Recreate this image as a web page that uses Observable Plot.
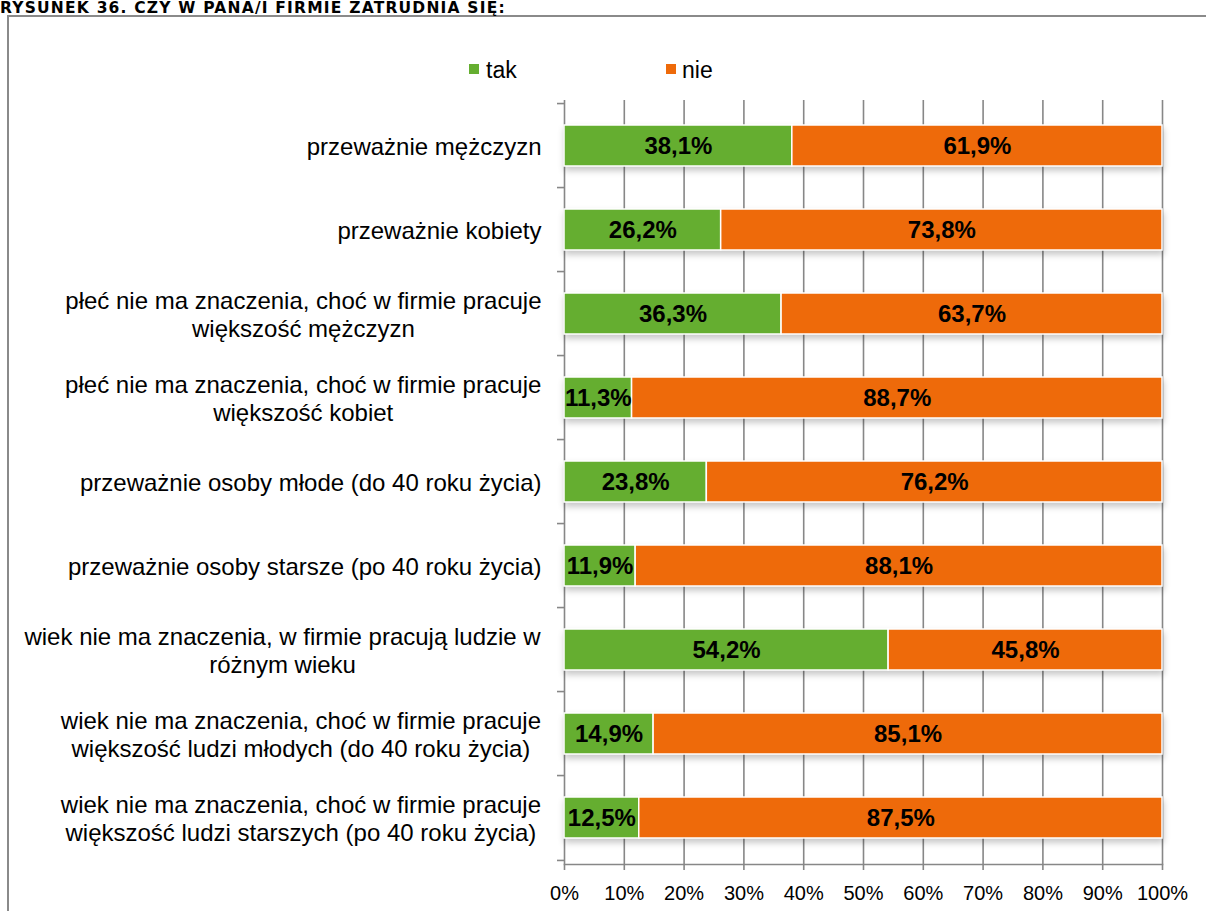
<!DOCTYPE html>
<html><head><meta charset="utf-8">
<script src="https://cdn.jsdelivr.net/npm/d3@7"></script>
<script src="https://cdn.jsdelivr.net/npm/@observablehq/plot@0.6"></script>
<style>
body{margin:0;width:1206px;height:911px;overflow:hidden;position:relative;background:#fff;font-family:"Liberation Sans",Arial,sans-serif;}
#frame{position:absolute;left:7px;top:15px;width:1300px;height:1000px;border:2px solid #8a8a8a;box-sizing:border-box;}
#title{position:absolute;left:0px;top:1px;font-family:"DejaVu Sans",sans-serif;font-weight:bold;font-size:15.5px;letter-spacing:1.2px;white-space:nowrap;color:#000;line-height:15px;}
.leg{position:absolute;top:56px;font-size:23px;color:#000;line-height:28px;}
.sw{position:absolute;top:64px;width:10px;height:10px;}
#chart{position:absolute;left:0;top:0;}
</style></head><body>
<div id="frame"></div>
<div id="title">RYSUNEK 36. CZY W PANA/I FIRMIE ZATRUDNIA SIĘ:</div>
<div id="chart"></div>
<script>
const categories = [
  "przeważnie mężczyzn",
  "przeważnie kobiety",
  "płeć nie ma znaczenia, choć w firmie pracuje\nwiększość mężczyzn",
  "płeć nie ma znaczenia, choć w firmie pracuje\nwiększość kobiet",
  "przeważnie osoby młode (do 40 roku życia)",
  "przeważnie osoby starsze (po 40 roku życia)",
  "wiek nie ma znaczenia, w firmie pracują ludzie w\nróżnym wieku",
  "wiek nie ma znaczenia, choć w firmie pracuje\nwiększość ludzi młodych (do 40 roku życia)",
  "wiek nie ma znaczenia, choć w firmie pracuje\nwiększość ludzi starszych (po 40 roku życia)"
];
const takValues = [38.1, 26.2, 36.3, 11.3, 23.8, 11.9, 54.2, 14.9, 12.5];
const nieValues = [61.9, 73.8, 63.7, 88.7, 76.2, 88.1, 45.8, 85.1, 87.5];
const seriesNames = ["tak", "nie"];
const seriesColors = ["#65ae30", "#ee6a0a"];
const xTicks = [0, 10, 20, 30, 40, 50, 60, 70, 80, 90, 100];

const data = [];
categories.forEach((c, i) => {
  data.push({cat: c, series: "tak", value: takValues[i]});
  data.push({cat: c, series: "nie", value: nieValues[i]});
});
const fmt = v => v.toFixed(1).replace(".", ",") + "%";

// legend
const legendPos = [[469, 486], [666, 682]];
seriesNames.forEach((s, i) => {
  const sw = document.createElement("div");
  sw.className = "sw"; sw.style.left = legendPos[i][0] + "px"; sw.style.background = seriesColors[i];
  document.body.appendChild(sw);
  const t = document.createElement("div");
  t.className = "leg"; t.style.left = legendPos[i][1] + "px"; t.textContent = s;
  document.body.appendChild(t);
});

const W = 1206, H = 911, mT = 100, mB = 47, mL = 564, mR = 44;
const step = (H - mT - mB) / categories.length;
const tickLen = 7 * 100 / (W - mL - mR);
const grid = "#878787";

const chart = Plot.plot({
  width: W, height: H,
  marginLeft: mL, marginRight: mR, marginTop: mT, marginBottom: mB,
  style: {fontFamily: "'Liberation Sans', Arial, sans-serif", fontSize: "20px", color: "#000", background: "transparent", overflow: "visible"},
  x: {domain: [0, 100], axis: null, label: null},
  y: {domain: categories, paddingInner: 0.51, paddingOuter: 0.255, align: 0.5, axis: null, label: null},
  color: {domain: seriesNames, range: seriesColors},
  marks: [
    Plot.ruleX(xTicks, {stroke: grid, strokeWidth: 1.6}),
    Plot.ruleY(categories, {y: d => d, x1: -tickLen, x2: 0, dy: -step / 2, stroke: grid, strokeWidth: 1.6}),
    Plot.ruleY(categories.slice(-1), {y: d => d, x1: -tickLen, x2: 0, dy: step / 2, stroke: grid, strokeWidth: 1.6}),
    Plot.frame({anchor: "bottom", stroke: grid, strokeWidth: 1.6}),
    Plot.barX(data, Plot.stackX({x: "value", y: "cat", z: "series", fill: "series", order: seriesNames, stroke: "white", strokeWidth: 1.5})),
    Plot.text(data, Plot.stackX({x: "value", y: "cat", z: "series", text: d => fmt(d.value), order: seriesNames, fontWeight: "bold", fontSize: 24, fill: "#000"})),
    Plot.axisX({ticks: xTicks, tickFormat: d => d + "%", tickSize: 6, tickPadding: 15, stroke: grid, strokeWidth: 1.6, fontSize: 20, fill: "#000", label: null}),
    Plot.text(categories, {y: d => d, text: d => d, frameAnchor: "left", dx: -23, textAnchor: "end", fontSize: 24, lineHeight: 1.17, fill: "#000"})
  ]
});
document.getElementById("chart").appendChild(chart);

// shadow under bars
const barG = chart.querySelector('g[aria-label="bar"]');
if (barG) barG.style.filter = "drop-shadow(1px 4px 3px rgba(0,0,0,0.22))";

// centre the lines of each category label inside a right-aligned block
const textGroups = chart.querySelectorAll('g[aria-label="text"]');
const catG = textGroups[textGroups.length - 1];
catG.querySelectorAll("text").forEach(t => {
  const w = t.getBBox().width;
  t.setAttribute("text-anchor", "middle");
  t.setAttribute("transform", (t.getAttribute("transform") || "") + ` translate(${-w / 2},0)`);
});
</script>
</body></html>
